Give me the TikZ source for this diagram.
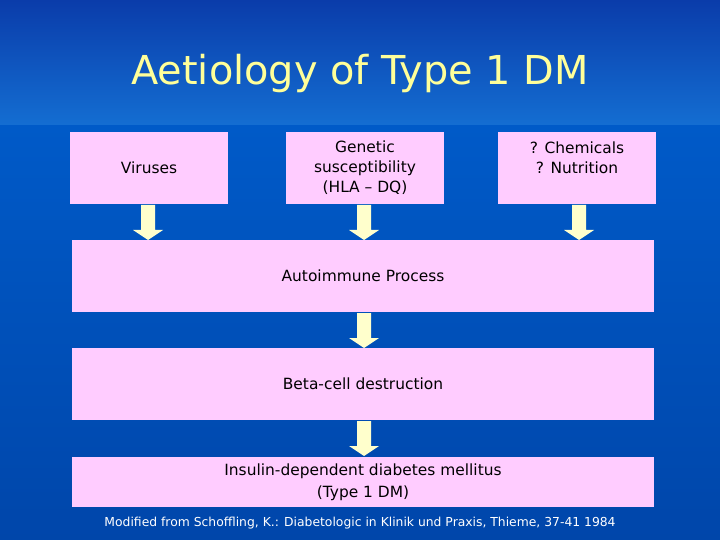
\documentclass[tikz,border=0pt]{standalone}
\usepackage{fontspec}
\setmainfont{DejaVu Sans}
\begin{document}
\begin{tikzpicture}[x=1bp,y=-1bp,
  pfont/.style={font=\fontsize{15.5}{20}\selectfont,align=center},
  pbox/.style={pfont,fill={rgb,255:red,255;green,204;blue,255},draw=none,inner sep=0pt},
  yarr/.style={fill={rgb,255:red,255;green,255;blue,204},draw=none}]
\definecolor{bgtop}{RGB}{10,60,170}
\definecolor{bgmid}{RGB}{0,90,200}
\useasboundingbox (0,0) rectangle (720,540);
\shade[top color=bgtop,bottom color={rgb,255:red,20;green,110;blue,210}] (0,0) rectangle (720,126);
\shade[top color=bgmid,bottom color={rgb,255:red,0;green,70;blue,170}] (0,126) rectangle (720,540);
\node[text={rgb,255:red,255;green,255;blue,153},font=\fontsize{40}{44}\selectfont] (title) at (360,74) {Aetiology of Type 1 DM};
\node[pbox,minimum width=158bp,minimum height=72bp] (vir) at (149,168) {Viruses};
\node[pbox,minimum width=158bp,minimum height=72bp] (gen) at (365,168) {Genetic\\susceptibility\\(HLA – DQ)};
\node[pbox,minimum width=158bp,minimum height=72bp,label={[pfont,yshift=10.5bp]center:{? Chemicals\\? Nutrition}}] (chem) at (577,168) {};
\node[pbox,minimum width=582bp,minimum height=72bp] (auto) at (363,276) {Autoimmune Process};
\node[pbox,minimum width=582bp,minimum height=72bp] (beta) at (363,384) {Beta-cell destruction};
\node[pbox,minimum width=582bp,minimum height=50bp,font=\fontsize{15.5}{22}\selectfont] (idd) at (363,482) {Insulin-dependent diabetes mellitus\\(Type 1 DM)};
\node[text=white,font=\fontsize{12.4}{15}\selectfont] (fn) at (360,523) {Modified from Schoffling, K.: Diabetologic in Klinik und Praxis, Thieme, 37-41 1984};
\foreach \cx/\ys/\ye in {148/205/240,364/205/240,579/205/240,364/313/348,364/421/456}{
  \fill[yarr] (\cx-7,\ys) -- (\cx+7,\ys) -- (\cx+7,\ye-10) -- (\cx+15,\ye-10) -- (\cx,\ye) -- (\cx-15,\ye-10) -- (\cx-7,\ye-10) -- cycle;
}
\end{tikzpicture}
\end{document}
